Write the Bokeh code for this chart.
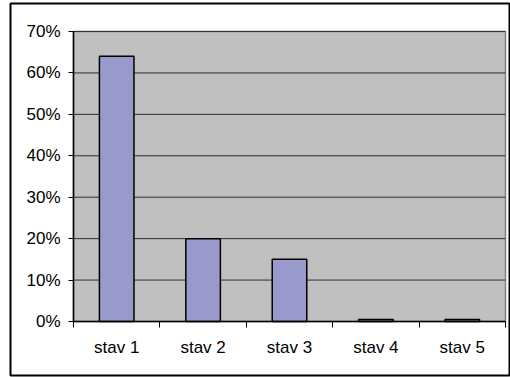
from bokeh.plotting import figure
from bokeh.models import FixedTicker, NumeralTickFormatter, Range1d, ColumnDataSource
from bokeh.embed import file_html
from bokeh.resources import INLINE

categories = ["stav 1", "stav 2", "stav 3", "stav 4", "stav 5"]
values = [0.64, 0.20, 0.15, 0.005, 0.005]
y_ticks = [0, 0.1, 0.2, 0.3, 0.4, 0.5, 0.6, 0.7]

n = len(categories)
positions = list(range(1, n + 1))
src = ColumnDataSource(dict(x=positions, top=values, cat=categories))

# pixel geometry of the chart box (outer border) and plot area inside it
W, H = 510, 377
box_l, box_t, box_b = 10, 3, 375
area_l, area_r, area_t, area_b = 73, 505, 31, 321
x0, x1 = 0.5, n + 0.5
y0, y1 = y_ticks[0], y_ticks[-1]
sx = (area_r - area_l) / (x1 - x0)
sy = (area_b - area_t) / (y1 - y0)
xr = Range1d(x0 - (area_l - box_l) / sx, x1 + (W - area_r) / sx)
yr = Range1d(y0 - (box_b - area_b) / sy, y1 + (area_t - box_t) / sy)

p = figure(width=W, height=H, output_backend="svg", toolbar_location=None,
           x_range=xr, y_range=yr,
           min_border_left=box_l, min_border_right=0, min_border_top=box_t,
           min_border_bottom=H - box_b)

p.background_fill_color = "white"
p.border_fill_color = "white"
p.outline_line_color = "black"
p.outline_line_width = 2

# plot area
p.quad(left=[x0], right=[x1], bottom=[y0], top=[y1],
       fill_color="#C0C0C0", line_color="#808080", line_width=1.5)
# gridlines
p.segment(x0=[x0] * len(y_ticks), x1=[x1] * len(y_ticks), y0=y_ticks, y1=y_ticks,
          line_color="#303030", line_width=1)

p.vbar(x="x", top="top", width=0.4, bottom=0, source=src,
       fill_color="#9999CC", line_color="black", line_width=1.5)

p.xgrid.visible = False
p.ygrid.visible = False

font = "Liberation Sans"
fsize = "17px"
# y axis
yax = p.yaxis[0]
yax.fixed_location = x0
yax.bounds = (y0, y1)
yax.ticker = FixedTicker(ticks=y_ticks)
yax.formatter = NumeralTickFormatter(format="0%")
yax.axis_line_color = "black"
yax.axis_line_width = 1.5
yax.major_tick_out = 5
yax.major_tick_in = 0
yax.major_tick_line_color = "black"
yax.minor_tick_line_color = None
yax.major_label_standoff = 8
yax.major_label_text_font = font
yax.major_label_text_font_size = fsize
yax.major_label_text_color = "black"

# x axis
xax = p.xaxis[0]
xax.fixed_location = y0
xax.bounds = (x0, x1)
xax.ticker = FixedTicker(ticks=positions,
                         minor_ticks=[i + 0.5 for i in range(0, n + 1)])
xax.major_label_overrides = {pos: c for pos, c in zip(positions, categories)}
xax.axis_line_color = "black"
xax.axis_line_width = 1.5
xax.major_tick_line_color = None
xax.major_tick_out = 0
xax.major_tick_in = 0
xax.minor_tick_line_color = "black"
xax.minor_tick_out = 6
xax.minor_tick_in = 0
xax.major_label_standoff = 10
xax.major_label_text_font = font
xax.major_label_text_font_size = fsize
xax.major_label_text_color = "black"

open("out.html", "w").write(file_html(p, INLINE))
